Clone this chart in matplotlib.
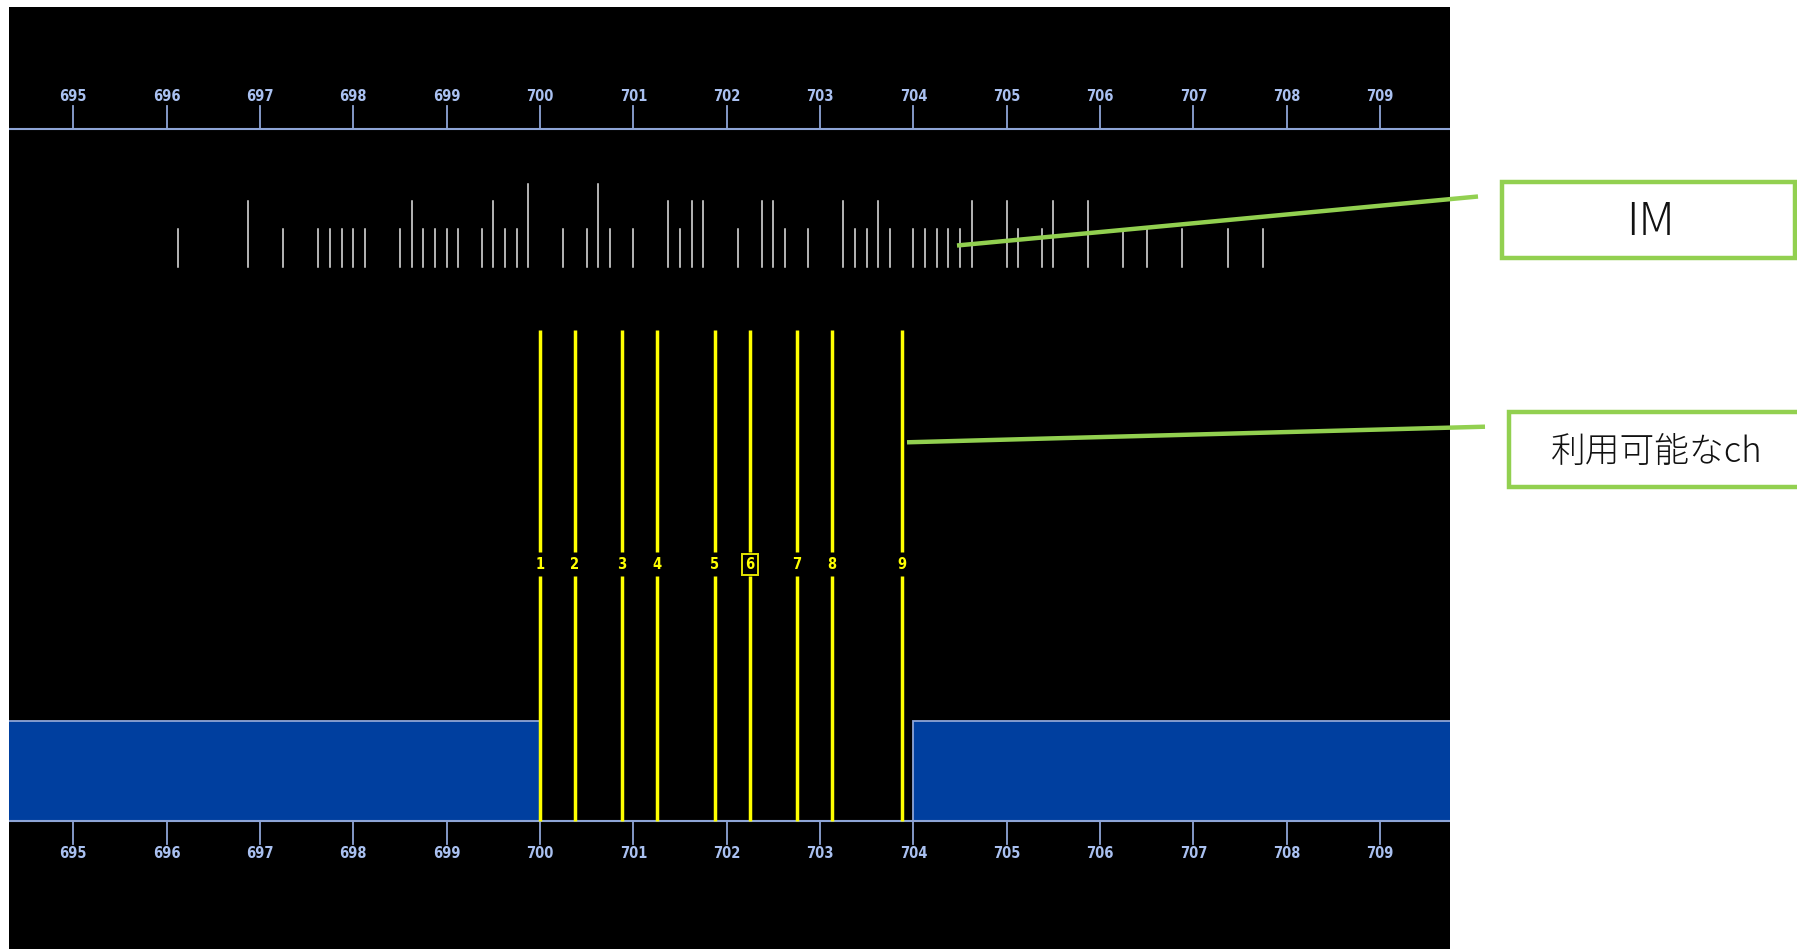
import matplotlib
matplotlib.use("Agg")
import matplotlib.pyplot as plt
from matplotlib.patches import Rectangle

plt.rcParams['font.family'] = ['Noto Sans CJK JP', 'DejaVu Sans']

# ---------------- data ----------------
tick_freqs = [695, 696, 697, 698, 699, 700, 701, 702, 703, 704, 705, 706, 707, 708, 709]
channel_freqs = [700.0, 700.375, 700.875, 701.25, 701.875, 702.25, 702.75, 703.125, 703.875]
channel_labels = ["1", "2", "3", "4", "5", "6", "7", "8", "9"]
selected_channel = "6"
im_freqs = [696.125, 696.875, 697.25, 697.625, 697.75, 697.875, 698.0, 698.125,
            698.5, 698.625, 698.75, 698.875, 699.0, 699.125, 699.375, 699.5,
            699.625, 699.75, 699.875, 700.25, 700.5, 700.625, 700.75, 701.0,
            701.375, 701.5, 701.625, 701.75, 702.125, 702.375, 702.5, 702.625,
            702.875, 703.25, 703.375, 703.5, 703.625, 703.75, 704.0, 704.125,
            704.25, 704.375, 704.5, 704.625, 705.0, 705.125, 705.375, 705.5,
            705.875, 706.25, 706.5, 706.875, 707.375, 707.75]
im_levels = [1, 2, 1, 1, 1, 1, 1, 1,
             1, 2, 1, 1, 1, 1, 1, 2,
             1, 1, 3, 1, 1, 3, 1, 1,
             2, 1, 2, 2, 1, 2, 2, 1,
             1, 2, 1, 1, 2, 1, 1, 1,
             1, 1, 1, 2, 2, 1, 1, 2,
             2, 1, 1, 1, 1, 1]
blocked_bands = [(694.0, 700.0), (704.0, 711.0)]
annotations = ["IM", "利用可能なch"]

# ---------------- style ----------------
W, H = 1797, 949
fig = plt.figure(figsize=(W / 100, H / 100), dpi=100)
fig.patch.set_facecolor("white")

ax = fig.add_axes([9 / W, 0, 1441 / W, 942 / H])
ax.set_facecolor("black")
ax.set_xlim(694.311, 709.750)
ax.set_ylim(949, 7)
ax.set_axis_off()
ax.add_patch(Rectangle((0, 0), 1, 1, transform=ax.transAxes, facecolor="black",
                       edgecolor="none", zorder=0))

axis_col = "#8ea5d6"
lab_col = "#a9c0f0"
narrow = ['DejaVu Sans']
tick_font = dict(family=narrow, fontstretch="condensed", fontweight="bold",
                 fontsize=10.5, color=lab_col, ha="center", va="center")

# top and bottom frequency axes
top_y, bot_y = 129, 820.5
ax.axhline(top_y, color=axis_col, lw=1.5, zorder=3)
ax.axhline(bot_y, color=axis_col, lw=1.5, zorder=3)
for f in tick_freqs:
    ax.plot([f, f], [106, top_y], color=axis_col, lw=1.3, zorder=3)
    ax.text(f, 96, str(f), **tick_font)
    ax.plot([f, f], [bot_y, 844], color=axis_col, lw=1.3, zorder=3)
    ax.text(f, 853, str(f), **tick_font)

# blocked bands
for a, b in blocked_bands:
    ax.add_patch(Rectangle((a, 721), b - a, bot_y - 721, facecolor="#003f9f",
                           edgecolor=axis_col, lw=1.3, zorder=2))

# IM products
level_top = {1: 229, 2: 201, 3: 184}
for f, lv in zip(im_freqs, im_levels):
    ax.plot([f, f], [267, level_top[lv]], color="#e6e6e6", lw=1.1, zorder=3)

# channels
for f, lab in zip(channel_freqs, channel_labels):
    ax.plot([f, f], [330, 552], color="#ffff00", lw=2.5, zorder=4, solid_capstyle="butt")
    ax.plot([f, f], [576, bot_y], color="#ffff00", lw=2.5, zorder=4, solid_capstyle="butt")
    kw = dict(family=narrow, fontstretch="condensed", fontweight="bold",
              fontsize=10.5, color="#ffff00", ha="center", va="center", zorder=5)
    if lab == selected_channel:
        kw["bbox"] = dict(boxstyle="square,pad=0.2", facecolor="black",
                          edgecolor="#e6e600", lw=1.4)
    ax.text(f, 564.5, lab, **kw)

# ---------------- annotation overlay ----------------
ov = fig.add_axes([0, 0, 1, 1])
ov.set_xlim(0, W)
ov.set_ylim(H, 0)
ov.set_axis_off()
ov.patch.set_alpha(0)

green = "#92d050"
ov.plot([957, 1478], [245.5, 196.5], color=green, lw=3.2, solid_capstyle="butt", zorder=6)
ov.plot([907, 1485], [442.3, 426.7], color=green, lw=3.2, solid_capstyle="butt", zorder=6)

ov.add_patch(Rectangle((1502, 182), 293, 76, facecolor="white", edgecolor=green,
                       lw=3.2, zorder=6))
ov.add_patch(Rectangle((1509, 412), 300, 75, facecolor="white", edgecolor=green,
                       lw=3.2, zorder=6, clip_on=True))
ov.text(1650, 222, annotations[0], fontsize=33, fontweight="light", color="#111111",
        ha="center", va="center", zorder=7)
ov.text(1657, 452, annotations[1], fontsize=25, fontweight="light", color="#111111",
        ha="center", va="center", zorder=7)

fig.savefig("out.png", dpi=100, facecolor="white")
